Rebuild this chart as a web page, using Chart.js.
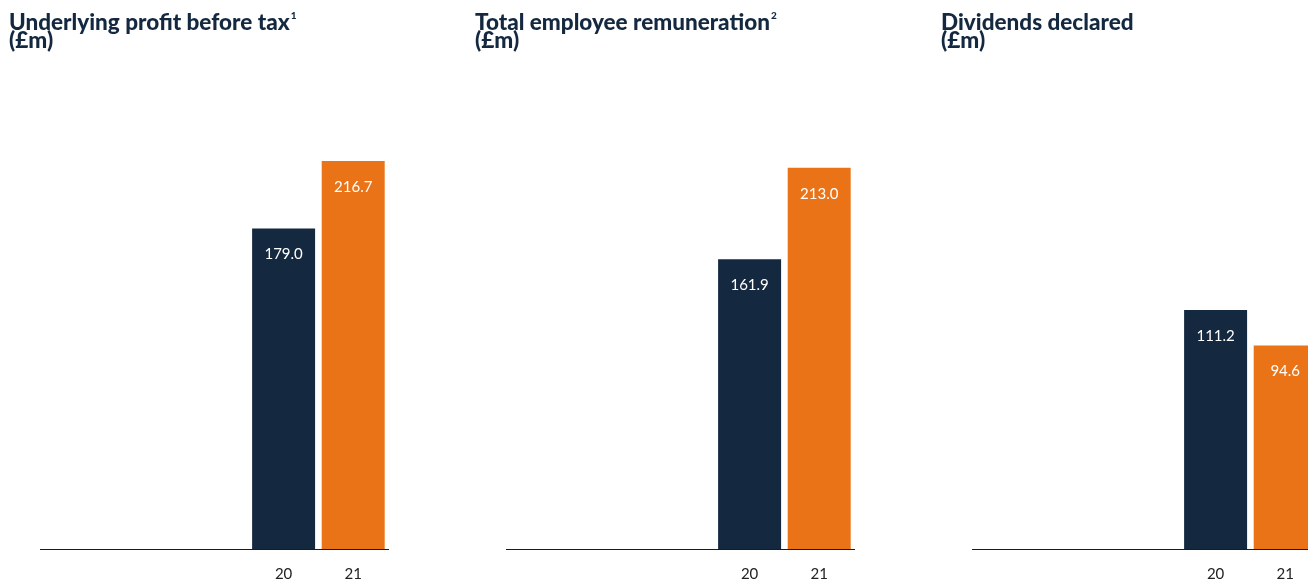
<!DOCTYPE html>
<html>
<head>
<meta charset="utf-8">
<script src="https://cdn.jsdelivr.net/npm/chart.js@4/dist/chart.umd.min.js"></script>
<style>
  html, body { margin: 0; padding: 0; background: #fff; overflow: hidden; }
  body { width: 1308px; height: 580px; position: relative; }
  .panel { position: absolute; top: 0; width: 400px; height: 591px; }
  .panel canvas { position: absolute; left: 0; top: 0; }
  .panel h2 {
    position: absolute; left: 9px; top: 13px; margin: 0; z-index: 2;
    font-family: Lato, sans-serif; font-weight: 900; font-size: 22.5px;
    line-height: 18px; color: #14283f; white-space: nowrap;
  }
  .panel h2 sup { font-size: 10px; line-height: 0; vertical-align: top; position: relative; top: 2px; margin-left: 1px; }
</style>
</head>
<body>
<div class="panel" style="left:0"><h2>Underlying profit before tax<sup>1</sup><br>(£m)</h2><canvas id="c1" width="400" height="591"></canvas></div>
<div class="panel" style="left:466px"><h2>Total employee remuneration<sup>2</sup><br>(£m)</h2><canvas id="c2" width="400" height="591"></canvas></div>
<div class="panel" style="left:932px"><h2>Dividends declared<br>(£m)</h2><canvas id="c3" width="400" height="591"></canvas></div>
<script>
// year slots: the first three are left empty, only 20 and 21 carry bars
const years = ['', '', '', '20', '21'];
const profitBeforeTax = [null, null, null, 179.0, 216.7];
const employeeRemuneration = [null, null, null, 161.9, 213.0];
const dividendsDeclared = [null, null, null, 111.2, 94.6];

const NAVY = '#14283f';
const ORANGE = '#ea7317';

// white value text just inside the top of each bar
const barValues = {
  id: 'barValues',
  afterDatasetsDraw(chart) {
    const ctx = chart.ctx;
    const meta = chart.getDatasetMeta(0);
    const data = chart.data.datasets[0].data;
    ctx.save();
    ctx.font = '15px Lato, sans-serif';
    ctx.fillStyle = '#ffffff';
    ctx.textAlign = 'center';
    ctx.textBaseline = 'middle';
    meta.data.forEach((bar, i) => {
      if (data[i] == null) return;
      ctx.fillText(data[i].toFixed(1), bar.x, bar.y + 26);
    });
    ctx.restore();
  }
};

function makeChart(id, values, yMax) {
  new Chart(document.getElementById(id), {
    type: 'bar',
    data: {
      labels: years,
      datasets: [{
        data: values,
        backgroundColor: [NAVY, NAVY, NAVY, NAVY, ORANGE],
        categoryPercentage: 1,
        barPercentage: 0.905
      }]
    },
    options: {
      responsive: false,
      animation: false,
      layout: { padding: { left: 40, right: 12, top: 90, bottom: 0 } },
      plugins: { legend: { display: false }, tooltip: { enabled: false } },
      scales: {
        x: {
          grid: { display: false },
          border: { display: true, color: '#1b1b1b', width: 1 },
          ticks: { color: '#222', font: { family: 'Lato, sans-serif', size: 15 }, padding: 8, maxRotation: 0 }
        },
        y: { display: false, min: 0, max: yMax }
      }
    },
    plugins: [barValues]
  });
}

makeChart('c1', profitBeforeTax, 256.4);
makeChart('c2', employeeRemuneration, 256.4);
makeChart('c3', dividendsDeclared, 213.5);
</script>
</body>
</html>
